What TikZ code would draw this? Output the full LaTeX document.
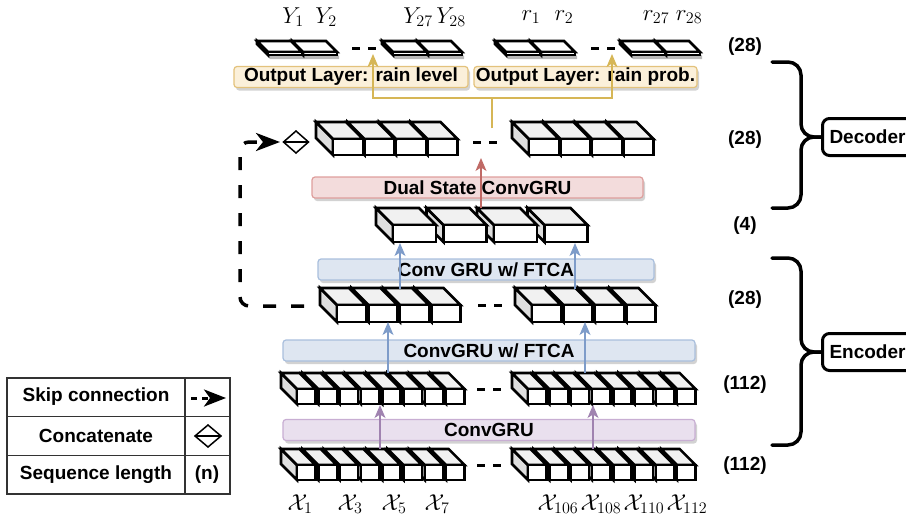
\RequirePackage{fix-cm}
\documentclass[tikz,border=0pt]{standalone}
\usepackage[no-math]{fontspec}
\newfontfamily\lsans{Liberation Sans}
\usetikzlibrary{arrows.meta,shadows}
\definecolor{yfill}{HTML}{FBF0DA}
\definecolor{yline}{HTML}{E3C27C}
\definecolor{yarr}{HTML}{D6B656}
\definecolor{rfill}{HTML}{F3DCDC}
\definecolor{rline}{HTML}{DE9E9C}
\definecolor{rarr}{HTML}{C06A66}
\definecolor{bfill}{HTML}{DEE6F1}
\definecolor{bline}{HTML}{A9BFDD}
\definecolor{barr}{HTML}{7E9CC9}
\definecolor{pfill}{HTML}{E9E0EE}
\definecolor{pline}{HTML}{C8AED3}
\definecolor{parr}{HTML}{A083B0}
\definecolor{cubetop}{HTML}{F1F1F1}
\definecolor{cubeside}{HTML}{DEDEDE}
\newcommand{\cuberow}[8]{%
  \foreach \ci in {#7,...,1}{%
    \pgfmathsetmacro\cx{#1+(\ci-1)*#6}%
    \filldraw[cubeline,fill=cubeside] (\cx-#5,#2-#5) -- (\cx,#2) -- (\cx,#2+#4) -- (\cx-#5,#2+#4-#5) -- cycle;
    \filldraw[cubeline,fill=#8] (\cx-#5,#2-#5) -- (\cx+#3-#5,#2-#5) -- (\cx+#3,#2) -- (\cx,#2) -- cycle;
    \filldraw[cubeline,fill=white] (\cx,#2) rectangle (\cx+#3,#2+#4);
  }}
\newcommand{\slabpair}[1]{%
  \fill[black!28] (#1-11+2,41+4) -- (#1+69-11+2,41+4) -- (#1+69+2,52+4) -- (#1+69+2,55+4) -- (#1+2,55+4) -- cycle;
  \cuberow{#1}{52}{34}{3}{11}{35}{2}{white}}
\newcommand{\dashpair}[2]{%
  \draw[gapdash] (#1,#2) -- (#1+8,#2);
  \draw[gapdash] (#1+16,#2) -- (#1+24,#2);}
\begin{document}
\begin{tikzpicture}[x=1pt,y=-1pt,
  cubeline/.style={draw=black,line width=2.6pt},
  gapdash/.style={line width=3pt},
  lbl/.style={font=\lsans\bfseries\fontsize{19}{22}\selectfont},
  mlbl/.style={font=\fontsize{23}{27}\selectfont, inner sep=0pt},
  layer/.style={lbl, rounded corners=3pt, line width=1.2pt, minimum height=21pt, inner sep=0pt,
    drop shadow={shadow xshift=2pt, shadow yshift=-3pt, fill=black!35, opacity=0.5}},
  arr/.style={line width=1.2pt, -{Stealth[length=13pt,width=11pt,inset=3.5pt]}},
  brace/.style={line width=3.5pt, rounded corners=13pt, line cap=round},
  partbox/.style={lbl, draw, line width=3pt, rounded corners=7pt, anchor=west, inner xsep=7pt,
    text width=84pt, align=left, minimum height=37pt},
  legline/.style={line width=1.3pt, draw=black!80},
]
\useasboundingbox (0,0) rectangle (906,523);

% ---------- layer boxes ----------
\node[layer, fill=yfill, draw=yline, minimum width=234pt] (olA) at (351,77) {Output Layer: rain level};
\node[layer, fill=yfill, draw=yline, minimum width=223pt] (olB) at (585.5,77) {Output Layer: rain prob.};
\node[layer, fill=rfill, draw=rline, minimum width=331pt] (dsc) at (477.5,187.5) {Dual State ConvGRU};
\node[layer, fill=bfill, draw=bline, minimum width=336pt] (cgf1) at (486,269.5) {Conv GRU w/ FTCA};
\node[layer, fill=bfill, draw=bline, minimum width=412pt] (cgf2) at (489,350.5) {ConvGRU w/ FTCA};
\node[layer, fill=pfill, draw=pline, minimum width=412pt] (cg) at (489,430) {ConvGRU};

% ---------- output slabs ----------
\slabpair{268}
\slabpair{393}
\slabpair{506}
\slabpair{631}
\dashpair{352}{48}
\dashpair{591}{48}

% ---------- cube rows ----------
% decoder (28)
\cuberow{333}{139}{30}{16}{17}{31.5}{4}{cubetop}
\cuberow{529}{139}{30}{16}{17}{31.5}{4}{cubetop}
\dashpair{473}{142}
% decoder (4)
\cuberow{393}{225}{43}{17}{17}{50.5}{4}{cubetop}
% encoder (28)
\cuberow{337}{305}{29}{17}{17}{31.5}{4}{cubetop}
\cuberow{532}{305}{29}{17}{17}{31.5}{4}{cubetop}
\dashpair{478}{305}
% encoder (112) upper
\cuberow{297}{389}{18.5}{15}{16}{21.3}{8}{cubetop}
\cuberow{528}{389}{18.5}{15}{16}{21.3}{8}{cubetop}
\dashpair{477}{389}
% encoder (112) lower
\cuberow{297}{465}{18.5}{15}{16}{21.3}{8}{cubetop}
\cuberow{528}{465}{18.5}{15}{16}{21.3}{8}{cubetop}
\dashpair{477}{465}

% ---------- arrows ----------
\coordinate (yS) at (492,128);
\coordinate (yL) at (373,54);
\coordinate (yR) at (612,54);
\draw[arr, yarr] (yS) -- (492,98) -| (yL);
\draw[arr, yarr] (yS) -- (492,98) -| (yR);
\coordinate (rS) at (481,208);
\coordinate (rT) at (481,158);
\draw[arr, rarr] (rS) -- (rT);
\coordinate (bA1) at (400,289); \coordinate (bA2) at (400,243);
\coordinate (bB1) at (575,289); \coordinate (bB2) at (575,243);
\draw[arr, barr] (bA1) -- (bA2);
\draw[arr, barr] (bB1) -- (bB2);
\coordinate (bC1) at (388,373); \coordinate (bC2) at (388,322);
\coordinate (bD1) at (585,373); \coordinate (bD2) at (585,322);
\draw[arr, barr] (bC1) -- (bC2);
\draw[arr, barr] (bD1) -- (bD2);
\coordinate (pA1) at (380,449); \coordinate (pA2) at (380,405);
\coordinate (pB1) at (593,449); \coordinate (pB2) at (593,405);
\draw[arr, parr] (pA1) -- (pA2);
\draw[arr, parr] (pB1) -- (pB2);

% ---------- skip connection ----------
\coordinate (dm) at (296,142);
\draw[line width=1.5pt, fill=white] (283.5,142) -- (296,131) -- (308.5,142) -- (296,153) -- cycle;
\draw[line width=1.5pt] (283.5,142) -- (308.5,142);
\coordinate (skS) at (304,306);
\coordinate (skT) at (280,142);
\draw[line width=3.5pt, dash pattern=on 13pt off 15pt, rounded corners=9pt,
  -{Stealth[length=24pt,width=18pt,inset=7pt]}] (skS) -- (240,306) -- (240,142) -- (skT);

% ---------- labels ----------
\node[mlbl] (Y1) at (293,17) {$Y_1$};
\node[mlbl] (Y2) at (326,17) {$Y_2$};
\node[mlbl] (Y27) at (418,17) {$Y_{27}$};
\node[mlbl] (Y28) at (451,17) {$Y_{28}$};
\node[mlbl] (r1) at (531,17) {$r_1$};
\node[mlbl] (r2) at (564,17) {$r_2$};
\node[mlbl] (r27) at (656,17) {$r_{27}$};
\node[mlbl] (r28) at (689,17) {$r_{28}$};
\node[mlbl] (X1) at (300,504) {$\mathcal{X}_1$};
\node[mlbl] (X3) at (350,504) {$\mathcal{X}_3$};
\node[mlbl] (X5) at (394,504) {$\mathcal{X}_5$};
\node[mlbl] (X7) at (437,504) {$\mathcal{X}_7$};
\node[mlbl] (X106) at (558,504) {$\mathcal{X}_{106}$};
\node[mlbl] (X108) at (601,504) {$\mathcal{X}_{108}$};
\node[mlbl] (X110) at (644,504) {$\mathcal{X}_{110}$};
\node[mlbl] (X112) at (687,504) {$\mathcal{X}_{112}$};

\node[lbl] (n1) at (745,47) {(28)};
\node[lbl] (n2) at (745,140) {(28)};
\node[lbl] (n3) at (745,226) {(4)};
\node[lbl] (n4) at (745,300) {(28)};
\node[lbl] (n5) at (745,385) {(112)};
\node[lbl] (n6) at (745,466) {(112)};

% ---------- braces ----------
\node[partbox] (dec) at (821,137) {Decoder};
\node[partbox] (enc) at (821,352) {Encoder};
\draw[brace] (772,62) -| (801,137) -- (dec.west);
\draw[brace] (772,208) -| (801,137) -- (dec.west);
\draw[brace] (772,258) -| (801,352) -- (enc.west);
\draw[brace] (772,445) -| (801,352) -- (enc.west);

% ---------- legend ----------
\draw[legline] (7,378) rectangle (230,494);
\draw[legline] (7,416.7) -- (230,416.7);
\draw[legline] (7,455.3) -- (230,455.3);
\draw[legline] (185,378) -- (185,494);
\node[lbl] (lg1) at (96,397) {Skip connection};
\node[lbl] (lg2) at (96,436) {Concatenate};
\node[lbl] (lg3) at (96,475) {Sequence length};
\coordinate (lgS) at (191,398);
\coordinate (lgT) at (226,398);
\draw[line width=3pt, dash pattern=on 6pt off 5pt, -{Stealth[length=22pt,width=17pt,inset=6pt]}] (lgS) -- (lgT);
\draw[line width=1.5pt, fill=white] (195,436) -- (208,425) -- (221,436) -- (208,447) -- cycle;
\draw[line width=1.5pt] (195,436) -- (221,436);
\node[lbl] (lgn) at (207,475) {(n)};
\end{tikzpicture}
\end{document}
